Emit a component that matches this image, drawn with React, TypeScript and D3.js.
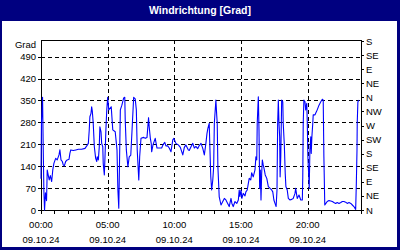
import React from "react";
import * as d3 from "d3";

const minutes = [
  0, 2, 7, 10, 13, 16, 20, 25, 28, 33, 37, 42, 48, 53, 58, 66, 73, 81, 85, 90,
  96, 100, 105, 111, 118, 126, 130, 134, 145, 157, 168, 183, 198, 206, 213, 217, 220, 225, 228, 231,
  235, 240, 246, 251, 253, 258, 262, 265, 270, 273, 278, 280, 285, 288, 292, 296, 300, 305, 316, 323,
  334, 342, 346, 350, 352, 357, 364, 372, 377, 379, 384, 391, 397, 404, 409, 417, 424, 429, 433, 440,
  444, 450, 462, 469, 477, 484, 487, 492, 496, 498, 504, 514, 522, 532, 543, 550, 557, 562, 570, 577,
  585, 593, 598, 607, 618, 627, 638, 645, 652, 663, 667, 675, 683, 690, 697, 705, 712, 720, 728, 735,
  742, 747, 751, 757, 760, 764, 768, 773, 777, 780, 783, 787, 791, 793, 796, 802, 810, 818, 825, 832,
  840, 847, 850, 855, 859, 865, 873, 881, 888, 892, 895, 900, 904, 910, 918, 922, 928, 933, 937, 944,
  948, 955, 963, 967, 971, 973, 978, 981, 984, 987, 990, 993, 996, 1000, 1005, 1009, 1016, 1023, 1031, 1038,
  1043, 1048, 1053, 1058, 1062, 1065, 1068, 1071, 1074, 1076, 1079, 1083, 1088, 1090, 1095, 1099, 1102, 1108, 1113, 1120,
  1128, 1135, 1143, 1146, 1153, 1161, 1169, 1176, 1178, 1180, 1183, 1188, 1191, 1196, 1198, 1201, 1205, 1207, 1210, 1214,
  1216, 1219, 1223, 1225, 1233, 1236, 1243, 1251, 1259, 1266, 1270, 1273, 1277, 1282, 1288, 1296, 1304, 1311, 1318, 1326,
  1333, 1341, 1349, 1356, 1363, 1371, 1378, 1386, 1394, 1401, 1408, 1416, 1419, 1422, 1423, 1426, 1431,
];

const degrees = [
  100, 277, 360, 200, 60, 0, 55, 30, 128, 110, 96, 110, 91, 128, 149, 165, 160, 176, 192, 160,
  155, 144, 141, 155, 160, 162, 181, 192, 190, 192, 194, 194, 197, 205, 213, 255, 298, 309, 330, 315,
  277, 202, 165, 155, 170, 160, 200, 266, 250, 213, 202, 149, 112, 170, 256, 320, 360, 320, 330, 256,
  250, 192, 64, 6, 90, 320, 335, 358, 360, 288, 192, 138, 170, 175, 245, 360, 355, 320, 192, 96,
  170, 229, 232, 229, 232, 295, 265, 229, 213, 186, 208, 229, 198, 198, 198, 210, 216, 205, 205, 198,
  186, 224, 229, 213, 208, 200, 176, 200, 208, 192, 190, 202, 213, 198, 203, 196, 206, 213, 197, 176,
  213, 245, 261, 277, 200, 106, 64, 96, 138, 277, 309, 351, 300, 277, 138, 42, 16, 27, 37, 32,
  21, 11, 21, 37, 21, 11, 27, 21, 32, 64, 43, 64, 37, 53, 45, 58, 64, 85, 101, 96,
  119, 106, 128, 170, 160, 277, 362, 256, 69, 128, 32, 117, 160, 144, 128, 112, 101, 75, 69, 64,
  58, 32, 21, 11, 64, 277, 351, 277, 234, 106, 170, 351, 346, 277, 208, 117, 75, 64, 37, 32,
  34, 37, 53, 69, 37, 48, 32, 32, 106, 277, 351, 346, 320, 341, 288, 170, 106, 69, 192, 234,
  181, 234, 277, 304, 304, 309, 320, 335, 346, 354, 351, 170, 16, 21, 27, 30, 29, 27, 24, 21,
  24, 21, 24, 27, 27, 25, 21, 24, 21, 16, 11, 2, 85, 192, 277, 346, 351,
];

const leftTicks = [0, 70, 140, 210, 280, 350, 420, 490];
const rightTicks = [0, 45, 90, 135, 180, 225, 270, 315, 360, 405, 450, 495, 540];
const rightLabels = ["N", "NE", "E", "SE", "S", "SW", "W", "NW", "N", "NE", "E", "SE", "S"];
const majorMinutes = [0, 300, 600, 900, 1200];
const timeLabels = ["00:00", "05:00", "10:00", "15:00", "20:00"];
const dateLabel = "09.10.24";
const title = "Windrichtung [Grad]";
const unitLabel = "Grad";

const W = 400;
const H = 250;
const left = 41;
const right = 361;
const top = 40;
const bottom = 210;

export default function App() {
  const x = d3.scaleLinear().domain([0, 1440]).range([left, right]);
  const y = d3.scaleLinear().domain([0, 540]).range([bottom, top + 1]);
  const line = d3
    .line<number>()
    .x((_, i) => x(minutes[i]))
    .y((d) => y(d));
  const hours = d3.range(0, 25);
  const font = "'Liberation Sans', Arial, sans-serif";
  const px = (v: number) => Math.round(v) + 0.5;

  return (
    <svg
      width={W}
      height={H}
      style={{ position: "absolute", left: 0, top: 0 }}
      fontFamily={font}
    >
      <rect x={0} y={0} width={W} height={H} fill="#000080" />
      <rect x={2} y={21} width={395} height={226} fill="#ffffff" />
      <text
        x={200}
        y={14}
        textAnchor="middle"
        fill="#ffffff"
        fontWeight="bold"
        fontSize={10.5}
      >
        {title}
      </text>

      {/* horizontal grid */}
      {leftTicks.slice(1).map((t) => (
        <line
          key={"hg" + t}
          x1={left}
          x2={right}
          y1={px(y(t))}
          y2={px(y(t))}
          stroke="#000"
          strokeWidth={1}
          strokeDasharray="4,3"
        />
      ))}
      {/* vertical grid */}
      {majorMinutes.slice(1).map((m) => (
        <line
          key={"vg" + m}
          x1={px(x(m))}
          x2={px(x(m))}
          y1={top}
          y2={bottom}
          stroke="#000"
          strokeWidth={1}
          strokeDasharray="4,3"
        />
      ))}

      {/* frame */}
      <line x1={px(left)} x2={px(left)} y1={top} y2={bottom + 1} stroke="#000" />
      <line x1={px(right)} x2={px(right)} y1={top} y2={bottom + 1} stroke="#000" />
      <line x1={left} x2={right + 1} y1={px(top)} y2={px(top)} stroke="#000" />
      <line x1={left} x2={right + 1} y1={px(bottom)} y2={px(bottom)} stroke="#000" />

      {/* data */}
      <path
        d={line(degrees) || ""}
        fill="none"
        stroke="#0000ff"
        strokeWidth={1.1}
        strokeLinejoin="round"
      />

      {/* left axis */}
      <text x={36} y={48} textAnchor="end" fontSize={9.5} fill="#000">
        {unitLabel}
      </text>
      {leftTicks.map((t) => (
        <g key={"lt" + t}>
          <line x1={38} x2={left} y1={px(y(t))} y2={px(y(t))} stroke="#000" />
          <text x={36} y={y(t) + 3.5} textAnchor="end" fontSize={9.5} fill="#000">
            {t}
          </text>
        </g>
      ))}

      {/* right axis */}
      {rightTicks.map((t, i) => (
        <g key={"rt" + t}>
          <line x1={right} x2={right + 3} y1={px(y(t))} y2={px(y(t))} stroke="#000" />
          <text x={366} y={y(t) + 3.5} textAnchor="start" fontSize={9.5} fill="#000">
            {rightLabels[i]}
          </text>
        </g>
      ))}

      {/* bottom axis */}
      {hours.map((h) => (
        <line
          key={"ht" + h}
          x1={px(x(h * 60))}
          x2={px(x(h * 60))}
          y1={bottom}
          y2={bottom + 4}
          stroke="#000"
        />
      ))}
      {majorMinutes.map((m, i) => (
        <g key={"bl" + m}>
          <text x={x(m)} y={227.5} textAnchor="middle" fontSize={9.5} fill="#000">
            {timeLabels[i]}
          </text>
          <text x={x(m)} y={242.5} textAnchor="middle" fontSize={9.5} fill="#000">
            {dateLabel}
          </text>
        </g>
      ))}
    </svg>
  );
}
